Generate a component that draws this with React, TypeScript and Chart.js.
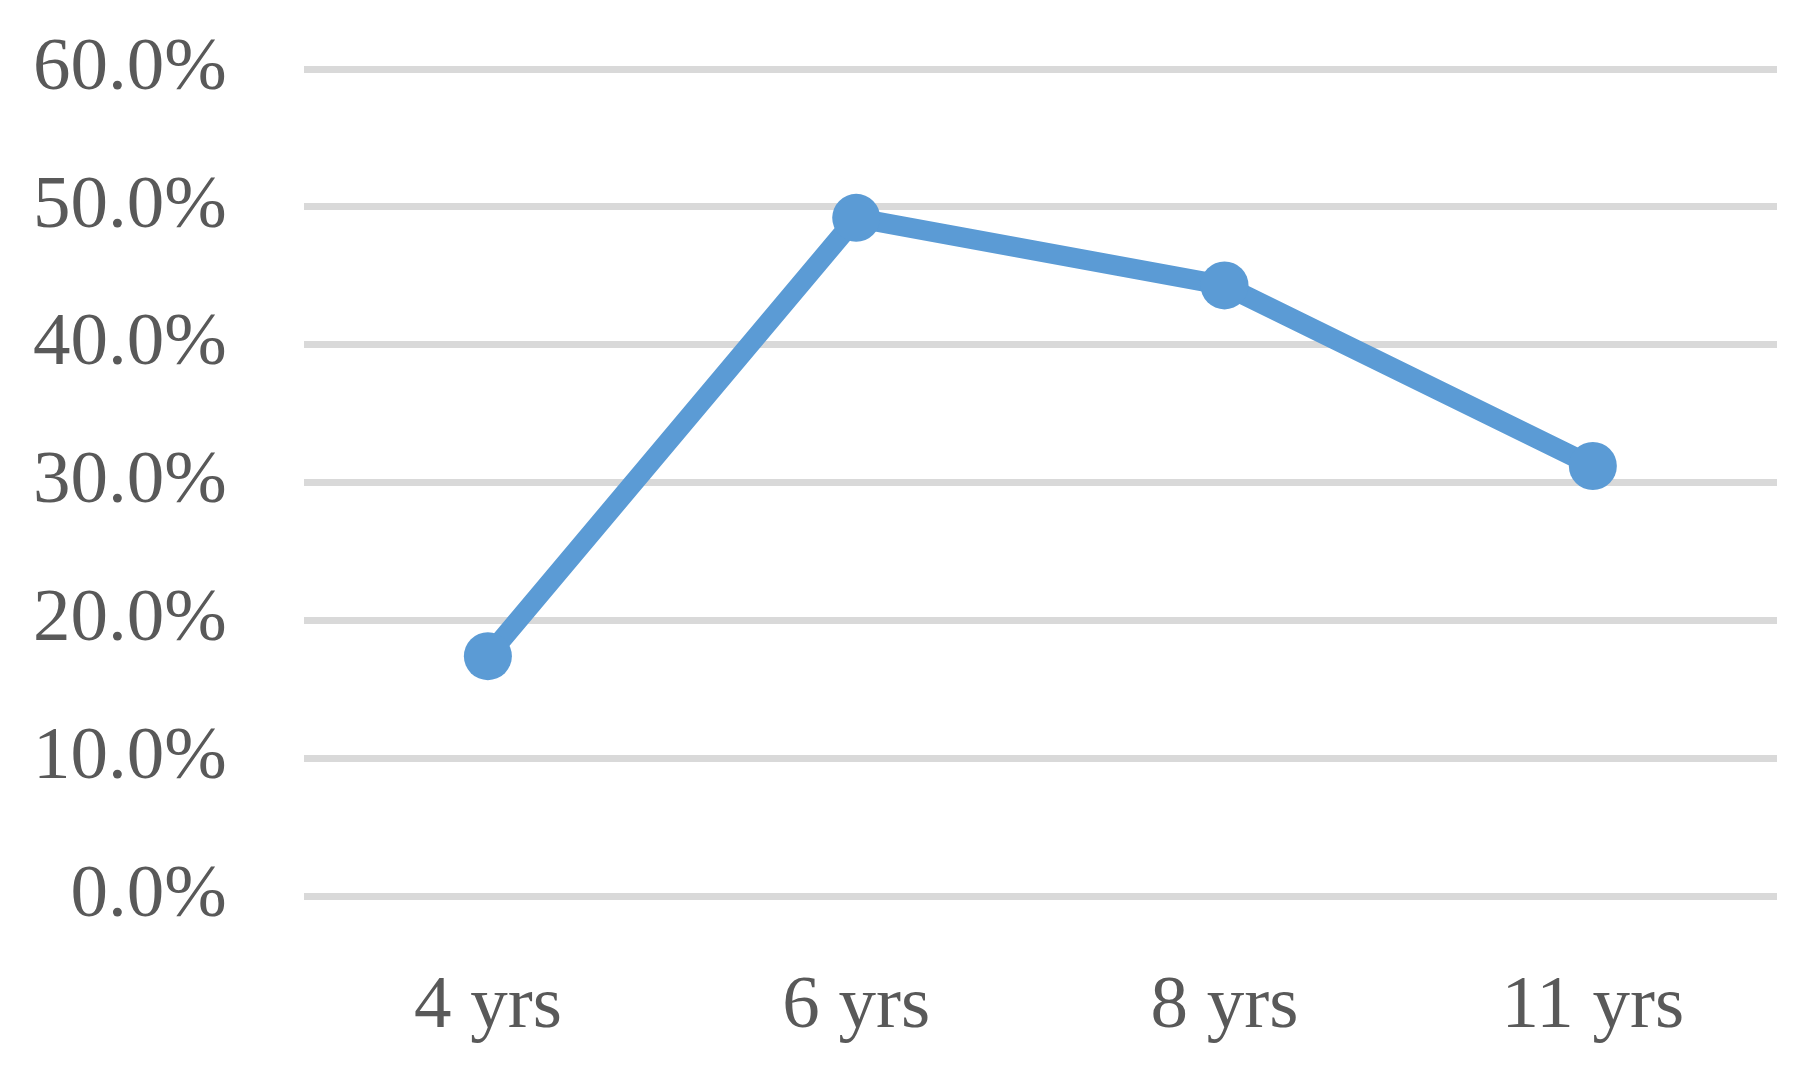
import React, { useEffect, useRef } from "react";
import { Chart, registerables } from "chart.js";

Chart.register(...registerables);

const categories: string[] = ["4 yrs", "6 yrs", "8 yrs", "11 yrs"];
const seriesValues: number[] = [17.4, 49.2, 44.3, 31.2];
const yTickValues: number[] = [0, 10, 20, 30, 40, 50, 60];

export default function App() {
  const canvasRef = useRef<HTMLCanvasElement | null>(null);

  useEffect(() => {
    if (!canvasRef.current) return;
    const fontSpec = { family: "'Liberation Serif', 'Times New Roman', serif", size: 75 };
    const chart = new Chart(canvasRef.current, {
      type: "line",
      data: {
        labels: categories,
        datasets: [
          {
            data: seriesValues,
            borderColor: "#5b9bd5",
            backgroundColor: "#5b9bd5",
            borderWidth: 20,
            pointRadius: 24,
            pointBackgroundColor: "#5b9bd5",
            pointBorderWidth: 0,
            tension: 0,
            fill: false,
          },
        ],
      },
      options: {
        animation: false,
        responsive: true,
        maintainAspectRatio: false,
        layout: { padding: { left: 33, right: 42, top: 69, bottom: -45 } },
        plugins: { legend: { display: false }, tooltip: { enabled: false }, title: { display: false } },
        scales: {
          x: {
            offset: true,
            grid: { display: false, drawTicks: false },
            border: { display: false },
            ticks: { color: "#595959", font: fontSpec, padding: 66 },
          },
          y: {
            min: 0,
            max: 60,
            afterBuildTicks: (axis: any) => {
              axis.ticks = yTickValues.map((v) => ({ value: v }));
            },
            grid: {
              color: "#d9d9d9",
              lineWidth: 7,
              drawTicks: true,
              tickLength: 77,
              tickColor: "rgba(0,0,0,0)",
            },
            border: { display: false },
            ticks: {
              color: "#595959",
              font: fontSpec,
              padding: 0,
              callback: (v: any) => `${Number(v).toFixed(1)}%`,
            },
          },
        },
      },
    });
    return () => chart.destroy();
  }, []);

  return (
    <div style={{ position: "fixed", left: 0, top: 0, width: "1819px", height: "1073px", background: "#fff" }}>
      <canvas ref={canvasRef} />
    </div>
  );
}
